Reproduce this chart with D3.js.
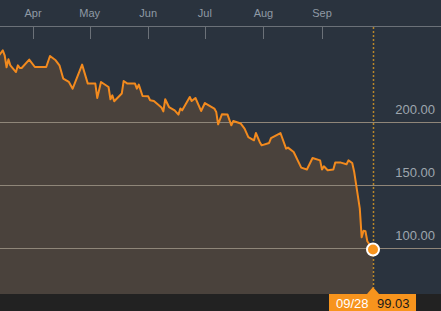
<!DOCTYPE html>
<html><head><meta charset="utf-8">
<script src="https://cdn.jsdelivr.net/npm/d3@7"></script>
<style>html,body{margin:0;padding:0;background:#2a333e;}svg{display:block;}</style>
</head><body>
<svg id="c" width="441" height="311"></svg>
<script>
const dates = ["2015-03-13","2015-03-16","2015-03-17","2015-03-18","2015-03-19","2015-03-20","2015-03-23","2015-03-24","2015-03-25","2015-03-26","2015-03-30","2015-04-02","2015-04-08","2015-04-10","2015-04-13","2015-04-15","2015-04-17","2015-04-20","2015-04-22","2015-04-27","2015-04-30","2015-05-04","2015-05-05","2015-05-07","2015-05-11","2015-05-12","2015-05-13","2015-05-14","2015-05-18","2015-05-19","2015-05-21","2015-05-25","2015-05-26","2015-05-27","2015-05-29","2015-06-01","2015-06-02","2015-06-04","2015-06-08","2015-06-09","2015-06-10","2015-06-12","2015-06-15","2015-06-17","2015-06-18","2015-06-19","2015-06-23","2015-06-24","2015-06-26","2015-06-29","2015-07-01","2015-07-06","2015-07-07","2015-07-08","2015-07-10","2015-07-13","2015-07-15","2015-07-16","2015-07-20","2015-07-22","2015-07-24","2015-07-27","2015-07-28","2015-07-30","2015-07-31","2015-08-04","2015-08-05","2015-08-10","2015-08-13","2015-08-14","2015-08-17","2015-08-21","2015-08-24","2015-08-27","2015-08-31","2015-09-01","2015-09-02","2015-09-04","2015-09-07","2015-09-08","2015-09-11","2015-09-14","2015-09-15","2015-09-17","2015-09-18","2015-09-21","2015-09-22","2015-09-23","2015-09-24","2015-09-25","2015-09-28"];
const values = [251.0,257.1,253.2,243.7,250.0,245.2,239.9,245.2,243.1,243.1,249.8,243.9,243.9,252.6,249.2,245.2,234.7,232.0,226.7,245.8,230.7,230.7,219.3,232.0,228.0,218.3,221.4,216.7,222.8,232.8,230.7,230.7,226.7,229.9,220.9,220.6,217.5,216.9,211.7,208.7,218.3,212.1,209.5,206.1,210.9,209.5,220.1,216.9,219.3,209.0,215.3,210.9,208.2,198.4,206.3,206.1,197.6,201.0,199.0,195.0,188.3,185.7,191.5,184.4,181.7,183.6,187.5,191.5,179.1,179.9,176.4,164.0,162.5,171.7,169.8,162.5,165.1,161.9,162.5,168.0,168.0,166.7,169.8,167.7,161.0,131.7,108.7,114.0,113.5,105.6,99.03];
const monthTicks = ["2015-04-01","2015-05-01","2015-06-01","2015-07-01","2015-08-01","2015-09-01"];
const monthLabels = ["Apr","May","Jun","Jul","Aug","Sep"];
const yTicks = [100,150,200];
const lastLabelDate = "09/28";
const lastLabelValue = "99.03";

const W = 441, H = 311;
const parse = d3.timeParse("%Y-%m-%d");
const data = dates.map((d,i)=>({date:parse(d), value:values[i]}));
const svg = d3.select("#c");

const x = d3.scaleTime().domain([parse("2015-04-01"), parse("2015-09-01")]).range([33, 322]);
const y = d3.scaleLinear().domain([100, 200]).range([248.3, 122.3]);
const plotTop = 26, plotBottom = 294;

// background
svg.append("rect").attr("x",0).attr("y",0).attr("width",W).attr("height",H).attr("fill","#2a333e");
svg.append("rect").attr("x",0).attr("y",plotBottom).attr("width",W).attr("height",H-plotBottom).attr("fill","#222222");

// area
const area = d3.area().x(d=>x(d.date)).y0(plotBottom).y1(d=>y(d.value));
svg.append("path").datum(data).attr("d",area).attr("fill","#4a423c");

// gridlines
svg.append("g").selectAll("line").data(yTicks).join("line")
  .attr("x1",0).attr("x2",W).attr("y1",d=>y(d)).attr("y2",d=>y(d))
  .attr("stroke","#8f8679").attr("stroke-width",1).attr("shape-rendering","crispEdges");

// y labels
svg.append("g").selectAll("text").data(yTicks).join("text")
  .attr("x",435).attr("y",d=>y(d)-8).attr("text-anchor","end")
  .attr("font-family","Liberation Sans, Arial, sans-serif").attr("font-size",13)
  .attr("fill","#9ea6ae").text(d=>d3.format(".2f")(d));

// top axis
svg.append("line").attr("x1",0).attr("x2",W).attr("y1",plotTop).attr("y2",plotTop)
  .attr("stroke","#6b7178").attr("stroke-width",1).attr("shape-rendering","crispEdges");
const mt = monthTicks.map(parse);
svg.append("g").selectAll("line").data(mt).join("line")
  .attr("x1",d=>Math.round(x(d))+0.5).attr("x2",d=>Math.round(x(d))+0.5)
  .attr("y1",plotTop).attr("y2",39).attr("stroke","#6b7178").attr("stroke-width",1);
svg.append("g").selectAll("text").data(mt).join("text")
  .attr("x",d=>x(d)).attr("y",17).attr("text-anchor","middle")
  .attr("font-family","Liberation Sans, Arial, sans-serif").attr("font-size",11)
  .attr("fill","#8f9aa5").text((d,i)=>monthLabels[i]);

// crosshair
const last = data[data.length-1];
const lx = x(last.date), ly = y(last.value);
svg.append("line").attr("x1",Math.round(lx)+0.5).attr("x2",Math.round(lx)+0.5)
  .attr("y1",plotTop+1).attr("y2",plotBottom-6)
  .attr("stroke","#b8862a").attr("stroke-width",1.5).attr("stroke-dasharray","2,2");

// line
const line = d3.line().x(d=>x(d.date)).y(d=>y(d.value));
svg.append("path").datum(data).attr("d",line).attr("fill","none")
  .attr("stroke","#f28a1e").attr("stroke-width",2).attr("stroke-linejoin","round");

// marker
svg.append("circle").attr("cx",lx).attr("cy",ly).attr("r",6)
  .attr("fill","#f7941d").attr("stroke","#ffffff").attr("stroke-width",2);

// bottom label
svg.append("path").attr("d",`M${lx-6},${plotBottom} L${lx},${plotBottom-7} L${lx+6},${plotBottom} Z`).attr("fill","#f7941d");
svg.append("rect").attr("x",lx-44).attr("y",plotBottom).attr("width",87).attr("height",H-plotBottom).attr("fill","#f7941d");
svg.append("text").attr("x",lx-37).attr("y",308).attr("font-family","Liberation Sans, Arial, sans-serif")
  .attr("font-size",13).attr("fill","#ffffff").text(lastLabelDate);
svg.append("text").attr("x",lx+4).attr("y",308).attr("font-family","Liberation Sans, Arial, sans-serif")
  .attr("font-size",13).attr("fill","#1a1a1a").text(lastLabelValue);
</script>
</body></html>
